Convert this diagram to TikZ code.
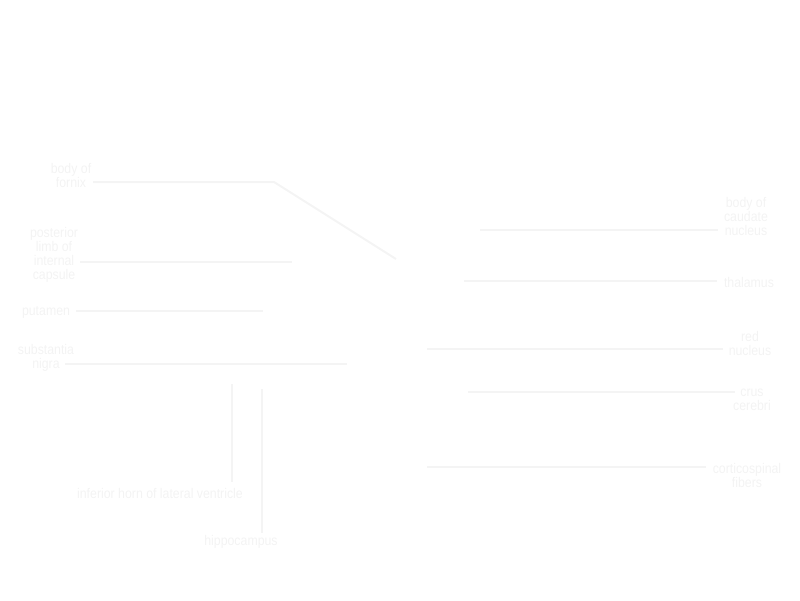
\documentclass[tikz,border=0pt]{standalone}
\usepackage{fontspec}
\setmainfont[FakeStretch=0.88]{Liberation Sans}
\usetikzlibrary{positioning}
\definecolor{labelgray}{HTML}{F3F3F3}
\definecolor{leadergray}{HTML}{F4F4F4}
\tikzset{
  part/.style={font=\fontsize{14}{14}\selectfont, text=labelgray,
    align=center, inner sep=0},
  leader/.style={draw=leadergray, line width=2pt}
}
\begin{document}
\begin{tikzpicture}[x=1pt,y=-1pt]
  \useasboundingbox (0,0) rectangle (800,600);
  % labels, left side
  \node[part] (fornix)   at (71,175)  {body of\\fornix};
  \node[part] (capsule)  at (54,255)  {posterior\\limb of\\internal\\capsule};
  \node[part] (putamen)  at (46,312)  {putamen};
  \node[part] (nigra)    at (46,358)  {substantia\\nigra};
  \node[part] (horn)     at (160,493) {inferior horn of lateral ventricle};
  \node[part] (hippo)    at (241,542) {hippocampus};
  % labels, right side
  \node[part] (caudate)  at (746,216) {body of\\caudate\\nucleus};
  \node[part] (thalamus) at (749,282) {thalamus};
  \node[part] (rednuc)   at (750,343) {red\\nucleus};
  \node[part] (crus)     at (752,400) {crus\\cerebri};
  \node[part] (cortico)  at (747,475) {corticospinal\\fibers};
  % leader ends
  \coordinate (fornix-s)   at (93,182);
  \coordinate (fornix-k)   at (274,182);
  \coordinate (fornix-e)   at (396,259);
  \coordinate (capsule-s)  at (80,262);
  \coordinate (capsule-e)  at (292,262);
  \coordinate (putamen-s)  at (76,311);
  \coordinate (putamen-e)  at (263,311);
  \coordinate (nigra-s)    at (65,364);
  \coordinate (nigra-e)    at (347,364);
  \coordinate (horn-s)     at (232,482);
  \coordinate (horn-e)     at (232,384);
  \coordinate (hippo-s)    at (262,533);
  \coordinate (hippo-e)    at (262,389);
  \coordinate (caudate-s)  at (718,230);
  \coordinate (caudate-e)  at (480,230);
  \coordinate (thalamus-s) at (717,281);
  \coordinate (thalamus-e) at (464,281);
  \coordinate (rednuc-s)   at (723,349);
  \coordinate (rednuc-e)   at (427,349);
  \coordinate (crus-s)     at (735,392);
  \coordinate (crus-e)     at (468,392);
  \coordinate (cortico-s)  at (706,467);
  \coordinate (cortico-e)  at (427,467);
  % leaders
  \draw[leader] (fornix-s) -- (fornix-k) -- (fornix-e);
  \foreach \p in {capsule,putamen,nigra,horn,hippo,caudate,thalamus,rednuc,crus,cortico}
    \draw[leader] (\p-s) -- (\p-e);
\end{tikzpicture}
\end{document}
